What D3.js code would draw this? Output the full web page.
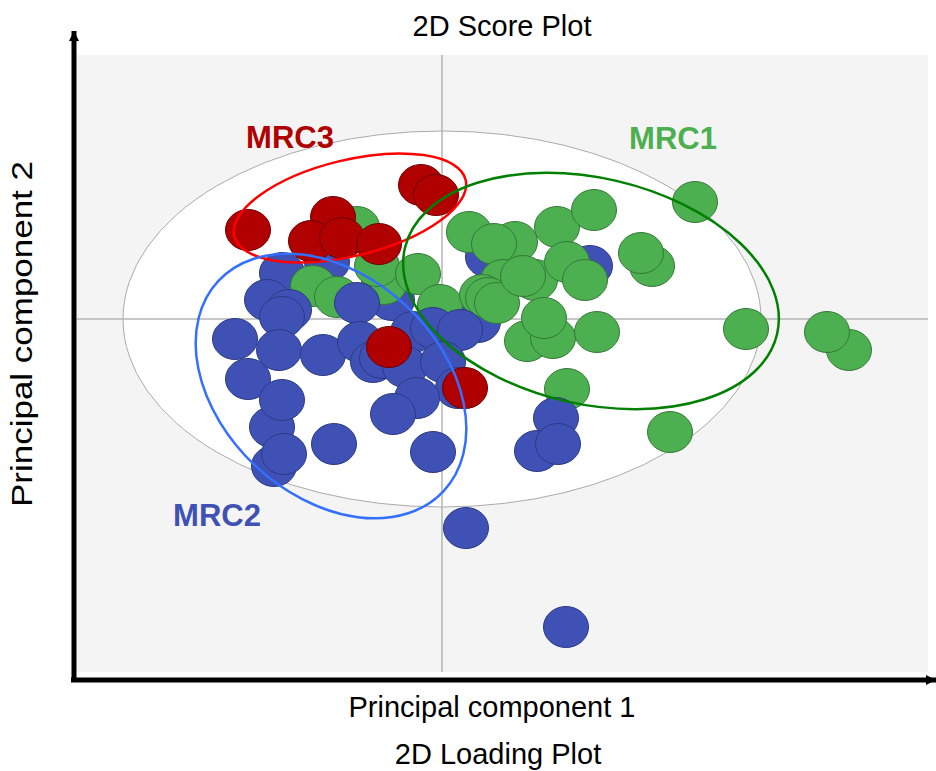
<!DOCTYPE html>
<html><head><meta charset="utf-8">
<script src="https://cdn.jsdelivr.net/npm/d3@7"></script>
<style>html,body{margin:0;padding:0;background:#fff;}svg{display:block;}</style>
</head><body>
<svg id="chart" width="936" height="771"></svg>
<script>
// ---- data (PC scores) ----
const titleTop = "2D Score Plot";
const titleBottom = "2D Loading Plot";
const xLabel = "Principal component 1";
const yLabel = "Principal component 2";
const groupNames = ["MRC1", "MRC2", "MRC3"];

// MRC1 (green)
const mrc1 = [
  [-0.85,0.92],[-0.58,0.35],[-0.65,0.53],[-1.29,0.33],[-1.05,0.22],[-0.24,0.45],[-0.02,0.14],
  [0.27,0.87],[0.73,0.77],[0.52,0.75],[1.15,0.92],[1.52,1.09],[2.53,1.17],[2.10,0.53],[1.99,0.66],
  [0.61,0.39],[0.93,0.39],[1.25,0.57],[1.43,0.39],[0.40,0.24],[0.46,0.21],[0.55,0.16],[0.81,0.43],
  [0.85,-0.22],[1.11,-0.19],[1.02,0.01],[1.55,-0.13],[3.04,-0.10],[4.07,-0.31],[3.85,-0.13],
  [1.25,-0.70],[2.28,-1.13]
];
// MRC2 (blue) points lying beneath the green cluster
const mrc2Under = [
  [-1.60,0.46],[-1.15,0.57],[-0.50,0.19],[0.46,0.62],[1.48,0.53],[0.36,-0.03]
];
// MRC2 (blue)
const mrc2 = [
  [-1.75,0.19],[-1.53,0.09],[-1.60,0.02],[-2.07,-0.20],[-1.63,-0.31],[-1.19,-0.36],[-1.94,-0.60],
  [-1.68,-1.47],[-1.70,-1.08],[-1.58,-1.35],[-1.60,-0.81],[-1.08,-1.25],[-0.85,0.16],[-0.82,-0.23],
  [-0.69,-0.43],[-0.60,-0.39],[-0.29,-0.13],[-0.09,-0.09],[0.18,-0.11],[-0.37,-0.48],[0.01,-0.43],
  [0.16,-0.69],[-0.25,-0.79],[-0.49,-0.95],[-0.09,-1.33],[1.14,-0.99],[0.95,-1.32],[1.16,-1.25],
  [0.24,-2.09],[1.24,-3.08]
];
// MRC3 (red)
const mrc3 = [
  [-1.94,0.89],[-1.09,1.02],[-1.31,0.78],[-1.00,0.81],[-0.63,0.75],[-0.21,1.34],[-0.06,1.24],
  [-0.53,-0.28],[0.23,-0.69]
];
// confidence ellipses: [cx, cy, semi-axis a, semi-axis b, angle deg]
const ellipseMRC1 = [1.49, 0.28, 1.91, 1.13, 13];
const ellipseMRC2 = [-1.11, -0.67, 1.54, 1.10, 43];
const ellipseMRC3 = [-0.92, 1.11, 1.19, 0.48, -13.7];
const ellipseAll = [0, 0, 3.19, 1.88, 0];
const xDomain = [-3.65, 4.86];
const yDomain = [-3.53, 2.64];

// ---- drawing ----
const svg = d3.select("#chart");
const x = d3.scaleLinear().domain(xDomain).range([77, 928]);
const y = d3.scaleLinear().domain(yDomain).range([672, 55]);
const font = "'Liberation Sans', Arial, sans-serif";

svg.append("rect").attr("x", x(xDomain[0])).attr("y", y(yDomain[1]))
  .attr("width", x(xDomain[1]) - x(xDomain[0])).attr("height", y(yDomain[0]) - y(yDomain[1]))
  .attr("fill", "#f4f4f4");

function drawEllipse(e, opts) {
  const [cx, cy, a, b, ang] = e;
  const rx = x(a) - x(0), ry = y(0) - y(b);
  svg.append("ellipse")
    .attr("transform", `translate(${x(cx)},${y(cy)}) rotate(${ang})`)
    .attr("rx", rx).attr("ry", ry)
    .attr("fill", opts.fill || "none").attr("stroke", opts.stroke)
    .attr("stroke-width", opts.width);
}
drawEllipse(ellipseAll, {fill: "#ffffff", stroke: "#aaaaaa", width: 1});

// zero lines
svg.append("line").attr("x1", x(0)).attr("x2", x(0)).attr("y1", y(yDomain[1])).attr("y2", y(yDomain[0]))
  .attr("stroke", "#b4b4b4").attr("stroke-width", 1.5);
svg.append("line").attr("x1", x(xDomain[0])).attr("x2", x(xDomain[1])).attr("y1", y(0)).attr("y2", y(0))
  .attr("stroke", "#b4b4b4").attr("stroke-width", 1.5);

const R_X = 22.5, R_Y = 20.5;
function drawPoints(data, fill, stroke) {
  svg.append("g").selectAll("ellipse").data(data).join("ellipse")
    .attr("cx", d => x(d[0])).attr("cy", d => y(d[1]))
    .attr("rx", R_X).attr("ry", R_Y)
    .attr("fill", fill).attr("stroke", stroke).attr("stroke-width", 1);
}
const blueFill = "#3f51b5", blueStroke = "#2b3a85";
const greenFill = "#4caf50", greenStroke = "#357a38";
const redFill = "#b00000", redStroke = "#6e0000";
drawPoints(mrc2Under, blueFill, blueStroke);
drawPoints(mrc1, greenFill, greenStroke);
drawPoints(mrc2, blueFill, blueStroke);
drawPoints(mrc3, redFill, redStroke);

drawEllipse(ellipseMRC3, {stroke: "#ff0000", width: 2.5});
drawEllipse(ellipseMRC1, {stroke: "#008000", width: 2.5});
drawEllipse(ellipseMRC2, {stroke: "#3370ff", width: 2.5});

// axes arrows
svg.append("defs").append("marker").attr("id", "arrow")
  .attr("viewBox", "0 0 10 10").attr("refX", 10).attr("refY", 5)
  .attr("markerWidth", 10).attr("markerHeight", 15).attr("markerUnits", "userSpaceOnUse")
  .attr("orient", "auto")
  .append("path").attr("d", "M0,0 L10,5 L0,10 Z").attr("fill", "#000");
svg.append("line").attr("x1", 74).attr("y1", 682).attr("x2", 74).attr("y2", 31)
  .attr("stroke", "#000").attr("stroke-width", 5).attr("marker-end", "url(#arrow)");
svg.append("line").attr("x1", 71).attr("y1", 680).attr("x2", 936).attr("y2", 680)
  .attr("stroke", "#000").attr("stroke-width", 5).attr("marker-end", "url(#arrow)");

// texts
function txt(s, tx, ty, size, color, weight, rot) {
  const t = svg.append("text").attr("x", tx).attr("y", ty).text(s)
    .attr("font-family", font).attr("font-size", size).attr("fill", color)
    .attr("font-weight", weight || "normal").attr("text-anchor", "middle");
  if (rot) t.attr("transform", `rotate(${rot},${tx},${ty})`);
  return t;
}
txt(titleTop, 502, 36, 29, "#000");
txt(xLabel, 492, 717, 29, "#000");
txt(titleBottom, 498, 764, 29, "#000");
txt(yLabel, 32, 334, 30, "#000", "normal", -90)
  .attr("textLength", 346).attr("lengthAdjust", "spacingAndGlyphs");
txt(groupNames[2], 290, 148, 31, redFill, "bold");
txt(groupNames[0], 673, 149, 31, greenFill, "bold");
txt(groupNames[1], 217, 526, 31, blueFill, "bold");
</script>
</body></html>
